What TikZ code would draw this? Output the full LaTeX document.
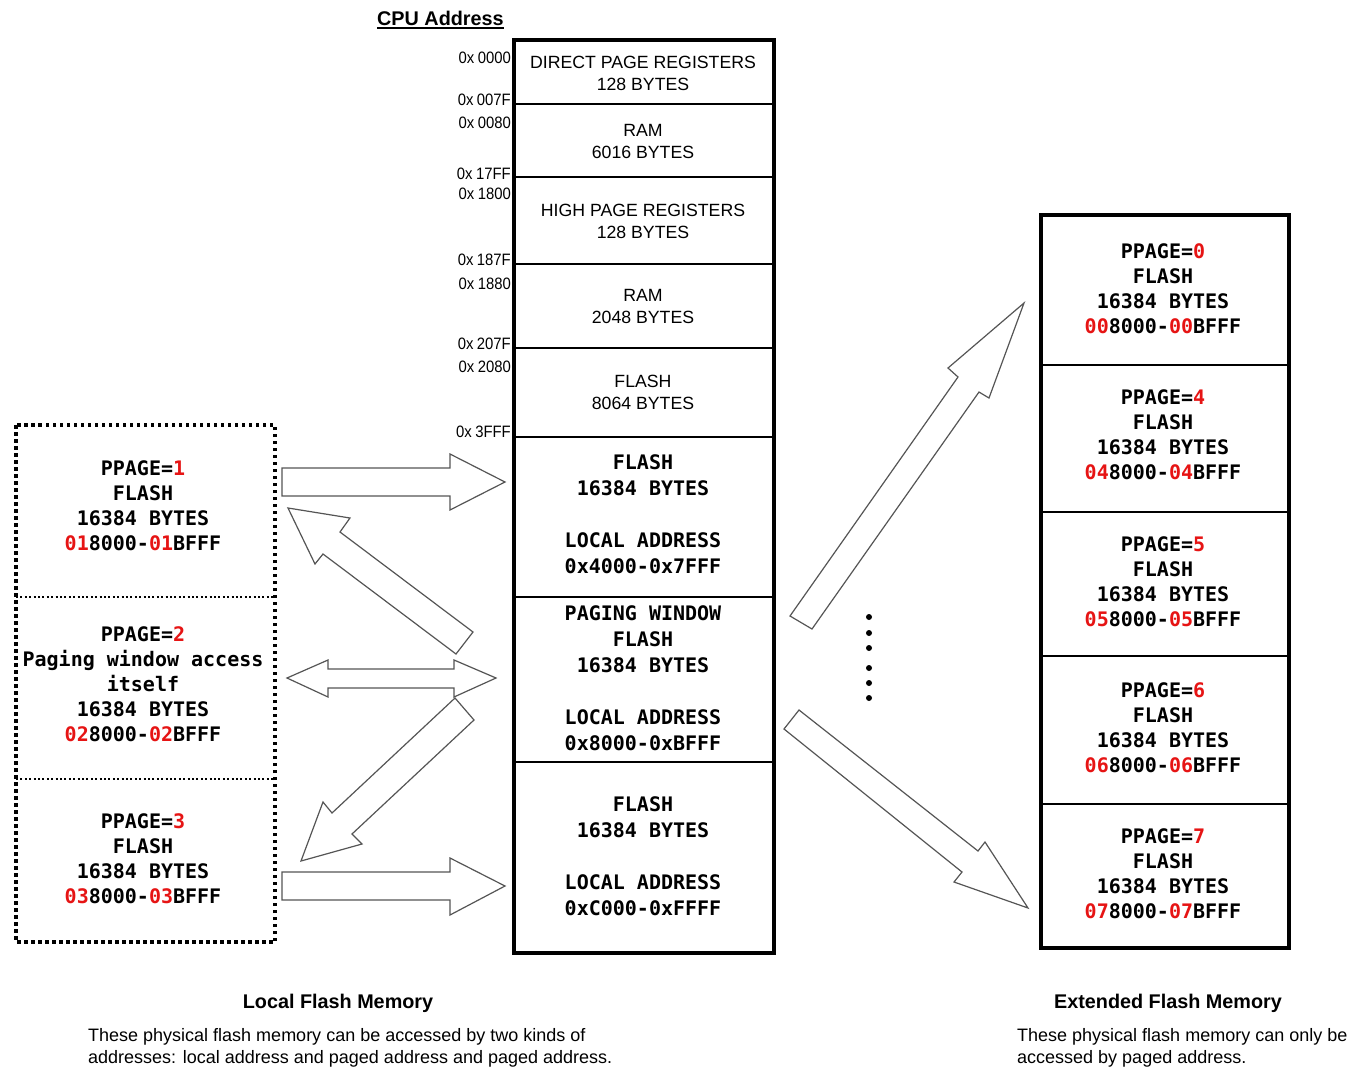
\documentclass[tikz,border=0pt]{standalone}
\usepackage{fontspec}
\setmainfont{Liberation Sans}
\newfontfamily\pixfont{DejaVu Sans Mono}
\newfontfamily\addrfont{Liberation Sans}[FakeStretch=0.9]
\definecolor{pred}{RGB}{230,20,20}
\definecolor{agray}{RGB}{85,85,85}
\newcommand{\rd}[1]{\textcolor{pred}{#1}}
\tikzset{
  pix/.style={font=\pixfont\bfseries\fontsize{20}{25}\selectfont, align=center, inner sep=0},
  pixw/.style={font=\pixfont\bfseries\fontsize{20}{26}\selectfont, align=center, inner sep=0},
  stk/.style={font=\fontsize{17.7}{22}\selectfont, align=center, inner sep=0},
  addr/.style={font=\addrfont\fontsize{16.5}{17}\selectfont, anchor=base east, inner sep=0},
  blockarrow/.style={draw=agray, fill=white, line width=1.2pt, line join=miter},
  outerline/.style={line width=3.5pt},
  divline/.style={line width=2.5pt},
  dotbox/.style={line width=3.5pt, dash pattern=on 3.5pt off 3.5pt},
  dotdiv/.style={line width=2pt, dash pattern=on 2pt off 2.4pt},
  title/.style={font=\bfseries\fontsize{19.8}{20}\selectfont, inner sep=0, anchor=base},
  para/.style={font=\fontsize{18}{22}\selectfont, inner sep=0, anchor=base west},
}
\begin{document}
\begin{tikzpicture}[x=1pt,y=-1pt]
\useasboundingbox[fill=white] (0,0) rectangle (1361,1069);

% CPU address title
\node[font=\bfseries\fontsize{19.8}{20}\selectfont, inner sep=0, anchor=base west] (cpu) at (377,25) {CPU Address};
\draw[line width=2pt] ([yshift=-3pt]cpu.base west) -- ([yshift=-3pt]cpu.base east);

% central memory stack
\draw[divline] (514,104) -- (774,104);
\draw[divline] (514,177) -- (774,177);
\draw[divline] (514,264) -- (774,264);
\draw[divline] (514,348) -- (774,348);
\draw[divline] (514,437) -- (774,437);
\draw[divline] (514,597) -- (774,597);
\draw[divline] (514,762) -- (774,762);
\draw[outerline] (514,40) rectangle (774,953);

\node[stk] (dpr) at (643,73) {DIRECT PAGE REGISTERS\\128 BYTES};
\node[stk] (ram1) at (643,141) {RAM\\6016 BYTES};
\node[stk] (hpr) at (643,221) {HIGH PAGE REGISTERS\\128 BYTES};
\node[stk] (ram2) at (643,306) {RAM\\2048 BYTES};
\node[stk] (fl1) at (643,392) {FLASH\\8064 BYTES};
\node[pixw] (fl2) at (643,514) {FLASH\\16384 BYTES\\[26pt]LOCAL ADDRESS\\0x4000-0x7FFF};
\node[pixw] (pw) at (643,678) {PAGING WINDOW\\FLASH\\16384 BYTES\\[26pt]LOCAL ADDRESS\\0x8000-0xBFFF};
\node[pixw] (fl3) at (643,856) {FLASH\\16384 BYTES\\[26pt]LOCAL ADDRESS\\0xC000-0xFFFF};

% addresses
\node[addr] (a1) at (511,63) {0x\hspace{3.5pt}0000};
\node[addr] (a2) at (511,105) {0x\hspace{3.5pt}007F};
\node[addr] (a3) at (511,128) {0x\hspace{3.5pt}0080};
\node[addr] (a4) at (511,179) {0x\hspace{3.5pt}17FF};
\node[addr] (a5) at (511,199) {0x\hspace{3.5pt}1800};
\node[addr] (a6) at (511,265) {0x\hspace{3.5pt}187F};
\node[addr] (a7) at (511,289) {0x\hspace{3.5pt}1880};
\node[addr] (a8) at (511,349) {0x\hspace{3.5pt}207F};
\node[addr] (a9) at (511,372) {0x\hspace{3.5pt}2080};
\node[addr] (a10) at (511,437) {0x\hspace{3.5pt}3FFF};

% left local flash box
\draw[dotdiv] (16,597) -- (275,597);
\draw[dotdiv] (16,779) -- (275,779);
\draw[dotbox] (16,425) rectangle (275,942);
\node[pix] (p1) at (143,506) {PPAGE=\rd{1}\\FLASH\\16384 BYTES\\\rd{01}8000-\rd{01}BFFF};
\node[pix] (p2) at (143,684) {PPAGE=\rd{2}\\Paging window access\\itself\\16384 BYTES\\\rd{02}8000-\rd{02}BFFF};
\node[pix] (p3) at (143,858.5) {PPAGE=\rd{3}\\FLASH\\16384 BYTES\\\rd{03}8000-\rd{03}BFFF};

% right extended flash box
\draw[divline] (1041,365) -- (1289,365);
\draw[divline] (1041,512) -- (1289,512);
\draw[divline] (1041,656) -- (1289,656);
\draw[divline] (1041,804) -- (1289,804);
\draw[outerline] (1041,215) rectangle (1289,948);
\node[pix] (e0) at (1163,288.5) {PPAGE=\rd{0}\\FLASH\\16384 BYTES\\\rd{00}8000-\rd{00}BFFF};
\node[pix] (e4) at (1163,434.5) {PPAGE=\rd{4}\\FLASH\\16384 BYTES\\\rd{04}8000-\rd{04}BFFF};
\node[pix] (e5) at (1163,581.5) {PPAGE=\rd{5}\\FLASH\\16384 BYTES\\\rd{05}8000-\rd{05}BFFF};
\node[pix] (e6) at (1163,727.5) {PPAGE=\rd{6}\\FLASH\\16384 BYTES\\\rd{06}8000-\rd{06}BFFF};
\node[pix] (e7) at (1163,873.5) {PPAGE=\rd{7}\\FLASH\\16384 BYTES\\\rd{07}8000-\rd{07}BFFF};

% block arrows (left)
\draw[blockarrow] (282,468) -- (450,468) -- (450,454) -- (505,482) -- (450,510) -- (450,496) -- (282,496) -- cycle;
\draw[blockarrow] (282,872) -- (450,872) -- (450,858) -- (505,886) -- (450,915) -- (450,900) -- (282,900) -- cycle;
\draw[blockarrow] (287,678) -- (328,660) -- (328,669) -- (454,669) -- (454,660) -- (496,678) -- (454,697) -- (454,688) -- (328,688) -- (328,697) -- cycle;
\draw[blockarrow] (288,508) -- (350,518) -- (340,532) -- (473,632) -- (456,654) -- (323,554) -- (315,564) -- cycle;
\draw[blockarrow] (301,861) -- (323,802) -- (332,813) -- (455,698) -- (474,720) -- (352,834) -- (362,844) -- cycle;

% block arrows (right)
\draw[blockarrow] (1024,303) -- (989,398) -- (979,392) -- (812,629) -- (790,616) -- (958,377) -- (948,368) -- cycle;
\draw[blockarrow] (1028,908) -- (954,882) -- (962,872) -- (784,729) -- (799,710) -- (978,851) -- (985,842) -- cycle;

% dots
\foreach \yy in {617,633,648,668,683,698} \fill (869,\yy) circle (3pt);

% captions
\node[title] (lfm) at (338,1008) {Local Flash Memory};
\node[title] (efm) at (1168,1008) {Extended Flash Memory};
\node[para] (lt1) at (88,1041) {These physical flash memory can be accessed by two kinds of};
\node[para] (lt2) at (88,1063) {addresses: local address and paged address and paged address.};
\node[para] (rt1) at (1017,1041) {These physical flash memory can only be};
\node[para] (rt2) at (1017,1063) {accessed by paged address.};
\end{tikzpicture}
\end{document}
